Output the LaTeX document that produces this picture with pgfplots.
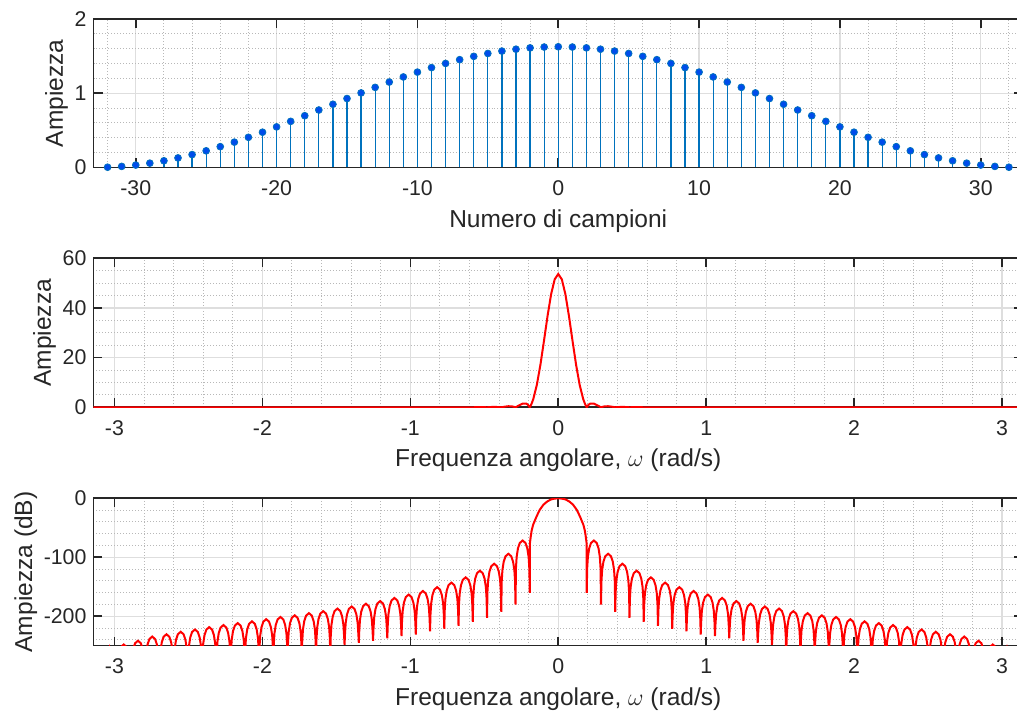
\documentclass[border=0pt]{standalone}
\usepackage{fontspec}
\setmainfont{Liberation Sans}
\usepackage{pgfplots}
\pgfplotsset{compat=1.18}
\definecolor{axgray}{rgb}{0.15,0.15,0.15}
\definecolor{gridmaj}{rgb}{0.87,0.87,0.87}
\definecolor{gridmin}{rgb}{0.72,0.72,0.72}
\definecolor{stemblue}{rgb}{0,0.447,0.741}
\definecolor{markblue}{rgb}{0,0.3,0.92}
\pgfplotsset{
 mystyle/.style={
  scale only axis, width=464.75bp,
  anchor=south west,
  axis line style={draw=axgray, line width=0.8bp},
  tick style={draw=axgray, line width=0.8bp},
  tick align=inside, major tick length=4.5bp, minor tick length=0pt,
  grid=both,
  major grid style={draw=gridmaj, line width=0.6bp},
  minor grid style={draw=gridmin, line width=0.5bp, densely dotted},
  ticklabel style={font=\fontsize{10.7}{12}\selectfont, text=axgray},
  xticklabel style={yshift=-3bp},
  label style={font=\fontsize{12.3}{14}\selectfont, text=axgray},
  every axis y label/.append style={at={(ticklabel cs:0.5,-3.5bp)}},
  /pgf/number format/assume math mode=true,
 },
 freqstyle/.style={
  xmin=-3.14159, xmax=3.14159,
  xtick={-3,-2,-1,0,1,2,3},
  minor xtick={-2.8,-2.6,-2.4,-2.2,-1.8,-1.6,-1.4,-1.2,-0.8,-0.6,-0.4,-0.2,0.2,0.4,0.6,0.8,1.2,1.4,1.6,1.8,2.2,2.4,2.6,2.8},
  xlabel={Frequenza angolare, $\omega$ (rad/s)},
 }
}
\begin{document}
\begin{tikzpicture}
\useasboundingbox (0,0) rectangle (508.5bp,355.5bp);
% ---------------- top: stem plot
\begin{axis}[mystyle, at={(46.75bp,271.75bp)}, height=74.25bp,
  xmin=-33, xmax=33, ymin=0, ymax=2,
  xtick={-30,-20,-10,0,10,20,30}, ytick={0,1,2},
  minor xtick={-32,-28,-26,-24,-22,-18,-16,-14,-12,-8,-6,-4,-2,2,4,6,8,12,14,16,18,22,24,26,28,32},
  minor ytick={0.2,0.4,0.6,0.8,1.2,1.4,1.6,1.8},
  xlabel={Numero di campioni}, ylabel={Ampiezza}]
\addplot[ycomb, draw=stemblue, line width=0.6bp, mark=*, mark size=1.7bp,
  mark options={fill=markblue, draw=stemblue, line width=0.4bp}] coordinates {
(-32,0.0037)(-31,0.0147)(-30,0.0329)(-29,0.0582)(-28,0.0904)(-27,0.1291)(-26,0.1739)(-25,0.2246)(-24,0.2806)(-23,0.3414)(-22,0.4065)(-21,0.4753)(-20,0.5471)(-19,0.6213)(-18,0.6973)(-17,0.7743)(-16,0.8517)(-15,0.9287)(-14,1.0047)(-13,1.0789)(-12,1.1507)(-11,1.2195)(-10,1.2846)(-9,1.3454)(-8,1.4014)(-7,1.4521)(-6,1.4969)(-5,1.5356)(-4,1.5678)(-3,1.5931)(-2,1.6113)(-1,1.6223)(0,1.626)
(1,1.6223)(2,1.6113)(3,1.5931)(4,1.5678)(5,1.5356)(6,1.4969)(7,1.4521)(8,1.4014)(9,1.3454)(10,1.2846)(11,1.2195)(12,1.1507)(13,1.0789)(14,1.0047)(15,0.9287)(16,0.8517)(17,0.7743)(18,0.6973)(19,0.6213)(20,0.5471)(21,0.4753)(22,0.4065)(23,0.3414)(24,0.2806)(25,0.2246)(26,0.1739)(27,0.1291)(28,0.0904)(29,0.0582)(30,0.0329)(31,0.0147)(32,0.0037)
};
\end{axis}
% ---------------- middle: linear magnitude
\begin{axis}[mystyle, freqstyle, at={(46.75bp,151.85bp)}, height=74.5bp,
  ymin=0, ymax=60, ytick={0,20,40,60},
  minor ytick={5,10,15,25,30,35,45,50,55},
  ylabel={Ampiezza}]
\addplot[red, line width=1bp] coordinates {
(-3.1416,0)(-0.5778,0)(-0.5297,0.11)(-0.4815,0)(-0.4334,0.19)(-0.3852,0)(-0.3611,0.25)(-0.3371,0.43)(-0.313,0.39)(-0.2889,0)(-0.2648,0.77)(-0.2408,1.5)(-0.2167,1.52)(-0.2046,1.0)(-0.1926,0)(-0.1806,1.39)(-0.1685,3.35)(-0.1445,9.11)(-0.1204,17.18)(-0.0963,26.83)(-0.0722,36.81)(-0.0482,45.55)(-0.0241,51.53)(0,53.66)
(0.0241,51.53)(0.0482,45.55)(0.0722,36.81)(0.0963,26.83)(0.1204,17.18)(0.1445,9.11)(0.1685,3.35)(0.1806,1.39)(0.1926,0)(0.2046,1.0)(0.2167,1.52)(0.2408,1.5)(0.2648,0.77)(0.2889,0)(0.313,0.39)(0.3371,0.43)(0.3611,0.25)(0.3852,0)(0.4334,0.19)(0.4815,0)(0.5297,0.11)(0.5778,0)(3.1416,0)
};
\end{axis}
% ---------------- bottom: magnitude in dB
\begin{axis}[mystyle, freqstyle, at={(46.75bp,32.65bp)}, height=73.7bp,
  ymin=-250, ymax=0, ytick={-200,-100,0},
  minor ytick={-240,-220,-180,-160,-140,-120,-80,-60,-40,-20},
  ylabel={Ampiezza (dB)}]
\addplot[red, line width=1bp] coordinates {
(0,0)(0.025,-0.5)(0.05,-2)(0.075,-5.5)(0.1,-10.8)(0.125,-19.5)(0.147,-31)(0.16,-39)(0.17,-45)(0.18,-55)(0.186,-65)(0.1915,-76)
(0.1926,-160.5)(0.1955,-118.8)(0.2003,-99.4)(0.2090,-85.1)(0.2215,-75.8)(0.2408,-71.6)(0.2600,-75.8)(0.2725,-85.1)(0.2812,-99.4)(0.2860,-118.8)
(0.2889,-180.2)(0.2918,-141.3)(0.2966,-121.9)(0.3053,-107.6)(0.3178,-98.3)(0.3371,-94.1)(0.3563,-98.3)(0.3688,-107.6)(0.3775,-121.9)(0.3823,-141.3)
(0.3852,-192.6)(0.3881,-158.2)(0.3929,-138.8)(0.4016,-124.5)(0.4141,-115.2)(0.4334,-111.0)(0.4526,-115.2)(0.4651,-124.5)(0.4738,-138.8)(0.4786,-158.2)
(0.4815,-202.7)(0.4844,-170.0)(0.4892,-150.6)(0.4979,-136.3)(0.5104,-127.0)(0.5297,-122.8)(0.5489,-127.0)(0.5614,-136.3)(0.5701,-150.6)(0.5749,-170.0)
(0.5778,-209.5)(0.5807,-181.3)(0.5855,-161.9)(0.5942,-147.6)(0.6067,-138.3)(0.6260,-134.1)(0.6452,-138.3)(0.6577,-147.6)(0.6664,-161.9)(0.6712,-181.3)
(0.6741,-216.2)(0.6770,-190.2)(0.6818,-170.8)(0.6905,-156.5)(0.7030,-147.2)(0.7223,-143.0)(0.7415,-147.2)(0.7540,-156.5)(0.7627,-170.8)(0.7675,-190.2)
(0.7704,-221.3)(0.7733,-197.9)(0.7781,-178.5)(0.7868,-164.2)(0.7993,-154.9)(0.8186,-150.7)(0.8378,-154.9)(0.8503,-164.2)(0.8590,-178.5)(0.8638,-197.9)
(0.8667,-225.8)(0.8696,-204.4)(0.8744,-185.0)(0.8831,-170.7)(0.8956,-161.4)(0.9149,-157.2)(0.9341,-161.4)(0.9466,-170.7)(0.9553,-185.0)(0.9601,-204.4)
(0.9630,-231.0)(0.9659,-210.5)(0.9707,-191.1)(0.9794,-176.8)(0.9919,-167.5)(1.0112,-163.3)(1.0304,-167.5)(1.0429,-176.8)(1.0516,-191.1)(1.0564,-210.5)
(1.0593,-233.8)(1.0622,-216.2)(1.0670,-196.8)(1.0757,-182.5)(1.0882,-173.2)(1.1075,-169.0)(1.1267,-173.2)(1.1392,-182.5)(1.1479,-196.8)(1.1527,-216.2)
(1.1556,-237.7)(1.1585,-221.5)(1.1633,-202.1)(1.1720,-187.8)(1.1845,-178.5)(1.2038,-174.3)(1.2230,-178.5)(1.2355,-187.8)(1.2442,-202.1)(1.2490,-221.5)
(1.2519,-241.6)(1.2548,-226.0)(1.2596,-206.6)(1.2683,-192.3)(1.2808,-183.0)(1.3001,-178.8)(1.3193,-183.0)(1.3318,-192.3)(1.3405,-206.6)(1.3453,-226.0)
(1.3482,-245.0)(1.3511,-230.7)(1.3559,-211.3)(1.3646,-197.0)(1.3771,-187.7)(1.3964,-183.5)(1.4156,-187.7)(1.4281,-197.0)(1.4368,-211.3)(1.4416,-230.7)
(1.4445,-248.5)(1.4474,-234.2)(1.4522,-214.8)(1.4609,-200.5)(1.4734,-191.2)(1.4927,-187.0)(1.5119,-191.2)(1.5244,-200.5)(1.5331,-214.8)(1.5379,-234.2)
(1.5408,-270)(1.5437,-238.6)(1.5485,-219.2)(1.5572,-204.9)(1.5697,-195.6)(1.5890,-191.4)(1.6082,-195.6)(1.6207,-204.9)(1.6294,-219.2)(1.6342,-238.6)
(1.6371,-270)(1.6400,-242.0)(1.6448,-222.6)(1.6535,-208.3)(1.6660,-199.0)(1.6853,-194.8)(1.7045,-199.0)(1.7170,-208.3)(1.7257,-222.6)(1.7305,-242.0)
(1.7334,-270)(1.7363,-245.7)(1.7411,-226.3)(1.7498,-212.0)(1.7623,-202.7)(1.7816,-198.5)(1.8008,-202.7)(1.8133,-212.0)(1.8220,-226.3)(1.8268,-245.7)
(1.8297,-270)(1.8326,-248.5)(1.8374,-229.1)(1.8461,-214.8)(1.8586,-205.5)(1.8779,-201.3)(1.8971,-205.5)(1.9096,-214.8)(1.9183,-229.1)(1.9231,-248.5)
(1.9260,-270)(1.9289,-252.2)(1.9337,-232.8)(1.9424,-218.5)(1.9549,-209.2)(1.9742,-205.0)(1.9934,-209.2)(2.0059,-218.5)(2.0146,-232.8)(2.0194,-252.2)
(2.0223,-270)(2.0252,-255.9)(2.0300,-236.5)(2.0387,-222.2)(2.0512,-212.9)(2.0705,-208.7)(2.0897,-212.9)(2.1022,-222.2)(2.1109,-236.5)(2.1157,-255.9)
(2.1186,-270)(2.1215,-258.9)(2.1263,-239.5)(2.1350,-225.2)(2.1475,-215.9)(2.1668,-211.7)(2.1860,-215.9)(2.1985,-225.2)(2.2072,-239.5)(2.2120,-258.9)
(2.2149,-270)(2.2178,-262.2)(2.2226,-242.8)(2.2313,-228.5)(2.2438,-219.2)(2.2631,-215.0)(2.2823,-219.2)(2.2948,-228.5)(2.3035,-242.8)(2.3083,-262.2)
(2.3112,-280)(2.3141,-265.7)(2.3189,-246.3)(2.3276,-232.0)(2.3401,-222.7)(2.3594,-218.5)(2.3786,-222.7)(2.3911,-232.0)(2.3998,-246.3)(2.4046,-265.7)
(2.4075,-280)(2.4104,-269.7)(2.4152,-250.3)(2.4239,-236.0)(2.4364,-226.7)(2.4557,-222.5)(2.4749,-226.7)(2.4874,-236.0)(2.4961,-250.3)(2.5009,-269.7)
(2.5038,-280)(2.5067,-273.6)(2.5115,-254.2)(2.5202,-239.9)(2.5327,-230.6)(2.5520,-226.4)(2.5712,-230.6)(2.5837,-239.9)(2.5924,-254.2)(2.5972,-273.6)
(2.6001,-290)(2.6030,-277.8)(2.6078,-258.4)(2.6165,-244.1)(2.6290,-234.8)(2.6483,-230.6)(2.6675,-234.8)(2.6800,-244.1)(2.6887,-258.4)(2.6935,-277.8)
(2.6964,-290)(2.6993,-281.7)(2.7041,-262.3)(2.7128,-248.0)(2.7253,-238.7)(2.7446,-234.5)(2.7638,-238.7)(2.7763,-248.0)(2.7850,-262.3)(2.7898,-281.7)
(2.7927,-300)(2.7956,-288.8)(2.8004,-269.4)(2.8091,-255.1)(2.8216,-245.8)(2.8409,-241.6)(2.8601,-245.8)(2.8726,-255.1)(2.8813,-269.4)(2.8861,-288.8)
(2.8890,-300)(2.8919,-295.2)(2.8967,-275.8)(2.9054,-261.5)(2.9179,-252.2)(2.9372,-248.0)(2.9564,-252.2)(2.9689,-261.5)(2.9776,-275.8)(2.9824,-295.2)
(2.9853,-310)(3.0335,-255)(3.0816,-310)(3.1119,-262)(3.1416,-300)
};
\addplot[red, line width=1bp] coordinates {
(0,0)(-0.025,-0.5)(-0.05,-2)(-0.075,-5.5)(-0.1,-10.8)(-0.125,-19.5)(-0.147,-31)(-0.16,-39)(-0.17,-45)(-0.18,-55)(-0.186,-65)(-0.1915,-76)
(-0.1926,-160.5)(-0.1955,-118.8)(-0.2003,-99.4)(-0.2090,-85.1)(-0.2215,-75.8)(-0.2408,-71.6)(-0.2600,-75.8)(-0.2725,-85.1)(-0.2812,-99.4)(-0.2860,-118.8)
(-0.2889,-180.2)(-0.2918,-141.3)(-0.2966,-121.9)(-0.3053,-107.6)(-0.3178,-98.3)(-0.3371,-94.1)(-0.3563,-98.3)(-0.3688,-107.6)(-0.3775,-121.9)(-0.3823,-141.3)
(-0.3852,-192.6)(-0.3881,-158.2)(-0.3929,-138.8)(-0.4016,-124.5)(-0.4141,-115.2)(-0.4334,-111.0)(-0.4526,-115.2)(-0.4651,-124.5)(-0.4738,-138.8)(-0.4786,-158.2)
(-0.4815,-202.7)(-0.4844,-170.0)(-0.4892,-150.6)(-0.4979,-136.3)(-0.5104,-127.0)(-0.5297,-122.8)(-0.5489,-127.0)(-0.5614,-136.3)(-0.5701,-150.6)(-0.5749,-170.0)
(-0.5778,-209.5)(-0.5807,-181.3)(-0.5855,-161.9)(-0.5942,-147.6)(-0.6067,-138.3)(-0.6260,-134.1)(-0.6452,-138.3)(-0.6577,-147.6)(-0.6664,-161.9)(-0.6712,-181.3)
(-0.6741,-216.2)(-0.6770,-190.2)(-0.6818,-170.8)(-0.6905,-156.5)(-0.7030,-147.2)(-0.7223,-143.0)(-0.7415,-147.2)(-0.7540,-156.5)(-0.7627,-170.8)(-0.7675,-190.2)
(-0.7704,-221.3)(-0.7733,-197.9)(-0.7781,-178.5)(-0.7868,-164.2)(-0.7993,-154.9)(-0.8186,-150.7)(-0.8378,-154.9)(-0.8503,-164.2)(-0.8590,-178.5)(-0.8638,-197.9)
(-0.8667,-225.8)(-0.8696,-204.4)(-0.8744,-185.0)(-0.8831,-170.7)(-0.8956,-161.4)(-0.9149,-157.2)(-0.9341,-161.4)(-0.9466,-170.7)(-0.9553,-185.0)(-0.9601,-204.4)
(-0.9630,-231.0)(-0.9659,-210.5)(-0.9707,-191.1)(-0.9794,-176.8)(-0.9919,-167.5)(-1.0112,-163.3)(-1.0304,-167.5)(-1.0429,-176.8)(-1.0516,-191.1)(-1.0564,-210.5)
(-1.0593,-233.8)(-1.0622,-216.2)(-1.0670,-196.8)(-1.0757,-182.5)(-1.0882,-173.2)(-1.1075,-169.0)(-1.1267,-173.2)(-1.1392,-182.5)(-1.1479,-196.8)(-1.1527,-216.2)
(-1.1556,-237.7)(-1.1585,-221.5)(-1.1633,-202.1)(-1.1720,-187.8)(-1.1845,-178.5)(-1.2038,-174.3)(-1.2230,-178.5)(-1.2355,-187.8)(-1.2442,-202.1)(-1.2490,-221.5)
(-1.2519,-241.6)(-1.2548,-226.0)(-1.2596,-206.6)(-1.2683,-192.3)(-1.2808,-183.0)(-1.3001,-178.8)(-1.3193,-183.0)(-1.3318,-192.3)(-1.3405,-206.6)(-1.3453,-226.0)
(-1.3482,-245.0)(-1.3511,-230.7)(-1.3559,-211.3)(-1.3646,-197.0)(-1.3771,-187.7)(-1.3964,-183.5)(-1.4156,-187.7)(-1.4281,-197.0)(-1.4368,-211.3)(-1.4416,-230.7)
(-1.4445,-248.5)(-1.4474,-234.2)(-1.4522,-214.8)(-1.4609,-200.5)(-1.4734,-191.2)(-1.4927,-187.0)(-1.5119,-191.2)(-1.5244,-200.5)(-1.5331,-214.8)(-1.5379,-234.2)
(-1.5408,-270)(-1.5437,-238.6)(-1.5485,-219.2)(-1.5572,-204.9)(-1.5697,-195.6)(-1.5890,-191.4)(-1.6082,-195.6)(-1.6207,-204.9)(-1.6294,-219.2)(-1.6342,-238.6)
(-1.6371,-270)(-1.6400,-242.0)(-1.6448,-222.6)(-1.6535,-208.3)(-1.6660,-199.0)(-1.6853,-194.8)(-1.7045,-199.0)(-1.7170,-208.3)(-1.7257,-222.6)(-1.7305,-242.0)
(-1.7334,-270)(-1.7363,-245.7)(-1.7411,-226.3)(-1.7498,-212.0)(-1.7623,-202.7)(-1.7816,-198.5)(-1.8008,-202.7)(-1.8133,-212.0)(-1.8220,-226.3)(-1.8268,-245.7)
(-1.8297,-270)(-1.8326,-248.5)(-1.8374,-229.1)(-1.8461,-214.8)(-1.8586,-205.5)(-1.8779,-201.3)(-1.8971,-205.5)(-1.9096,-214.8)(-1.9183,-229.1)(-1.9231,-248.5)
(-1.9260,-270)(-1.9289,-252.2)(-1.9337,-232.8)(-1.9424,-218.5)(-1.9549,-209.2)(-1.9742,-205.0)(-1.9934,-209.2)(-2.0059,-218.5)(-2.0146,-232.8)(-2.0194,-252.2)
(-2.0223,-270)(-2.0252,-255.9)(-2.0300,-236.5)(-2.0387,-222.2)(-2.0512,-212.9)(-2.0705,-208.7)(-2.0897,-212.9)(-2.1022,-222.2)(-2.1109,-236.5)(-2.1157,-255.9)
(-2.1186,-270)(-2.1215,-258.9)(-2.1263,-239.5)(-2.1350,-225.2)(-2.1475,-215.9)(-2.1668,-211.7)(-2.1860,-215.9)(-2.1985,-225.2)(-2.2072,-239.5)(-2.2120,-258.9)
(-2.2149,-270)(-2.2178,-262.2)(-2.2226,-242.8)(-2.2313,-228.5)(-2.2438,-219.2)(-2.2631,-215.0)(-2.2823,-219.2)(-2.2948,-228.5)(-2.3035,-242.8)(-2.3083,-262.2)
(-2.3112,-280)(-2.3141,-265.7)(-2.3189,-246.3)(-2.3276,-232.0)(-2.3401,-222.7)(-2.3594,-218.5)(-2.3786,-222.7)(-2.3911,-232.0)(-2.3998,-246.3)(-2.4046,-265.7)
(-2.4075,-280)(-2.4104,-269.7)(-2.4152,-250.3)(-2.4239,-236.0)(-2.4364,-226.7)(-2.4557,-222.5)(-2.4749,-226.7)(-2.4874,-236.0)(-2.4961,-250.3)(-2.5009,-269.7)
(-2.5038,-280)(-2.5067,-273.6)(-2.5115,-254.2)(-2.5202,-239.9)(-2.5327,-230.6)(-2.5520,-226.4)(-2.5712,-230.6)(-2.5837,-239.9)(-2.5924,-254.2)(-2.5972,-273.6)
(-2.6001,-290)(-2.6030,-277.8)(-2.6078,-258.4)(-2.6165,-244.1)(-2.6290,-234.8)(-2.6483,-230.6)(-2.6675,-234.8)(-2.6800,-244.1)(-2.6887,-258.4)(-2.6935,-277.8)
(-2.6964,-290)(-2.6993,-281.7)(-2.7041,-262.3)(-2.7128,-248.0)(-2.7253,-238.7)(-2.7446,-234.5)(-2.7638,-238.7)(-2.7763,-248.0)(-2.7850,-262.3)(-2.7898,-281.7)
(-2.7927,-300)(-2.7956,-288.8)(-2.8004,-269.4)(-2.8091,-255.1)(-2.8216,-245.8)(-2.8409,-241.6)(-2.8601,-245.8)(-2.8726,-255.1)(-2.8813,-269.4)(-2.8861,-288.8)
(-2.8890,-300)(-2.8919,-295.2)(-2.8967,-275.8)(-2.9054,-261.5)(-2.9179,-252.2)(-2.9372,-248.0)(-2.9564,-252.2)(-2.9689,-261.5)(-2.9776,-275.8)(-2.9824,-295.2)
(-2.9853,-310)(-3.0335,-255)(-3.0816,-310)(-3.1119,-262)(-3.1416,-300)
};
\end{axis}
\end{tikzpicture}
\end{document}
